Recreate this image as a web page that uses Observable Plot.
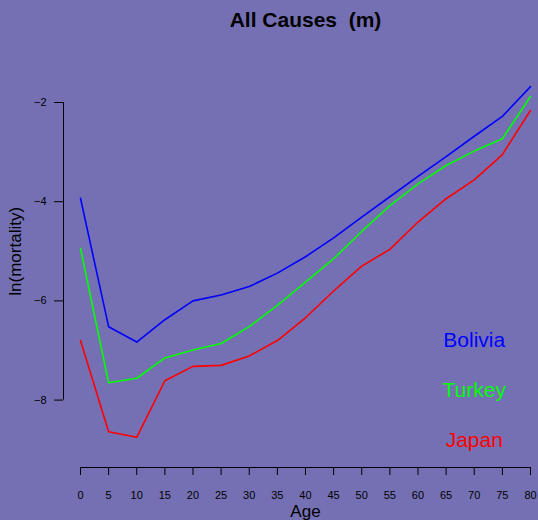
<!DOCTYPE html>
<html>
<head>
<meta charset="utf-8">
<script src="https://cdn.jsdelivr.net/npm/d3@7"></script>
<script src="https://cdn.jsdelivr.net/npm/@observablehq/plot@0.6"></script>
<style>
  html, body { margin: 0; padding: 0; background: #7570B3; }
  svg text { white-space: pre; }
</style>
</head>
<body>
<div id="chart"></div>
<script>
const ages = [0, 5, 10, 15, 20, 25, 30, 35, 40, 45, 50, 55, 60, 65, 70, 75, 80];
const bolivia = [-3.93, -6.52, -6.83, -6.38, -6.00, -5.88, -5.71, -5.44, -5.11, -4.73, -4.31, -3.90, -3.49, -3.09, -2.68, -2.28, -1.68];
const turkey  = [-4.94, -7.65, -7.56, -7.15, -6.99, -6.86, -6.52, -6.09, -5.62, -5.15, -4.60, -4.08, -3.64, -3.27, -2.98, -2.73, -1.88];
const japan   = [-6.80, -8.64, -8.75, -7.61, -7.32, -7.30, -7.11, -6.80, -6.34, -5.80, -5.30, -4.96, -4.41, -3.94, -3.56, -3.05, -2.16];
const countries = ["Bolivia", "Turkey", "Japan"];
const colors = ["#0000FF", "#00FF00", "#FF0000"];
const yTicks = [-2, -4, -6, -8];
const legendX = 70;
const legendY = [-6.8, -7.8, -8.8];
const title = "All Causes  (m)";
const xLabel = "Age";
const yLabel = "ln(mortality)";

const series = [bolivia, turkey, japan];
const data = [];
countries.forEach((c, i) => ages.forEach((a, j) => data.push({country: c, age: a, value: series[i][j]})));
const legend = countries.map((c, i) => ({country: c, y: legendY[i], x: legendX}));

const xMin = -3.02, yMin = -9.359;
const ageMid = (d3.min(ages) + d3.max(ages)) / 2;
const yMid = (d3.min(yTicks) + d3.max(yTicks)) / 2;

const chart = Plot.plot({
  width: 538,
  height: 520,
  marginLeft: 63,
  marginRight: 8,
  marginTop: 102,
  marginBottom: 53,
  style: {background: "#7570B3", fontFamily: "'Liberation Sans', Arial, Helvetica, sans-serif", color: "black"},
  x: {domain: [xMin, d3.max(ages)], axis: null},
  y: {domain: [yMin, d3.max(yTicks)], axis: null},
  color: {domain: countries, range: colors},
  marks: [
    Plot.ruleY([yMin], {x1: d3.min(ages), x2: d3.max(ages), stroke: "black", strokeWidth: 1}),
    Plot.ruleX([xMin], {y1: d3.min(yTicks), y2: d3.max(yTicks), stroke: "black", strokeWidth: 1}),
    Plot.axisX({ticks: ages, anchor: "bottom", tickSize: 8, tickPadding: 16, fontSize: 11, label: null, stroke: "black", fill: "black"}),
    Plot.axisY({ticks: yTicks, anchor: "left", tickSize: 9, tickPadding: 8, fontSize: 11, label: null, stroke: "black", fill: "black"}),
    Plot.line(data, {x: "age", y: "value", z: "country", stroke: "country", strokeWidth: 1.6}),
    Plot.text(legend, {x: "x", y: "y", text: "country", fill: "country", fontSize: 21}),
    Plot.text([{t: title, x: ageMid}], {x: "x", text: "t", frameAnchor: "top", lineAnchor: "middle", dy: -82, fontSize: 21, fontWeight: "bold", fill: "black"}),
    Plot.text([{t: xLabel, x: ageMid}], {x: "x", text: "t", frameAnchor: "bottom", lineAnchor: "middle", dy: 44, fontSize: 17, fill: "black"}),
    Plot.text([{t: yLabel, y: yMid}], {y: "y", text: "t", frameAnchor: "left", textAnchor: "middle", lineAnchor: "middle", dx: -47.5, rotate: -90, fontSize: 17, fill: "black"})
  ]
});
document.getElementById("chart").appendChild(chart);
</script>
</body>
</html>
